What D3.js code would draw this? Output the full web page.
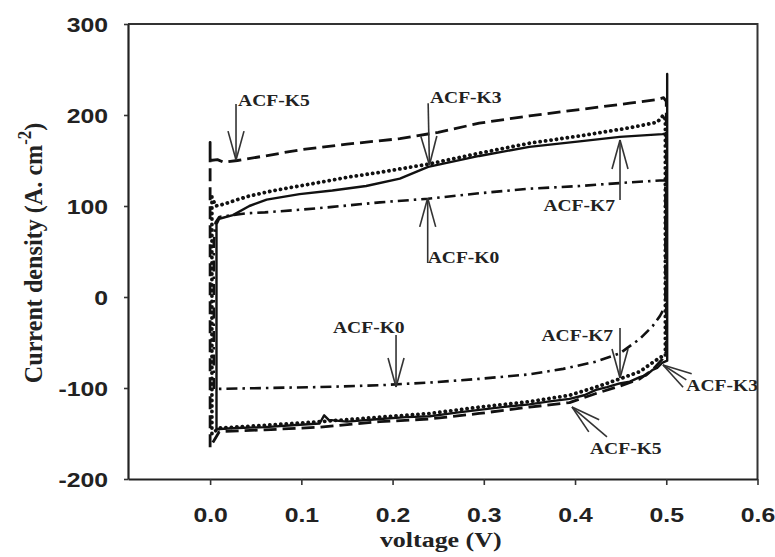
<!DOCTYPE html>
<html><head><meta charset="utf-8">
<script src="https://cdn.jsdelivr.net/npm/d3@7"></script>
<style>
html,body{margin:0;padding:0;background:#fff;}
svg{display:block;}
</style></head>
<body><svg id="chart" width="775" height="557"></svg>
<script>
// ---- data ----
const xTicks = [0.0, 0.1, 0.2, 0.3, 0.4, 0.5, 0.6];
const yTicks = [-200, -100, 0, 100, 200, 300];
const xLabel = "voltage (V)";
const yLabel = "Current density (A. cm";

// ACF-K0 (dash-dot)
const k0 = [[0.004,-101],[0.004,60],[0.006,82],[0.010,88],[0.025,90],[0.04,92],[0.06,93],[0.1,96],[0.134,99],[0.186,104],[0.239,108],[0.295,114],[0.35,119],[0.405,122],[0.46,126],[0.493,128],[0.499,128],[0.499,-10],[0.493,-21],[0.485,-32],[0.471,-46],[0.449,-62],[0.423,-71],[0.387,-79],[0.35,-85],[0.295,-90],[0.241,-94],[0.186,-97],[0.12,-99],[0.06,-100],[0.01,-101],[0.004,-101]];
// ACF-K3 (dotted)
const k3 = [[0.002,-150],[0.002,110],[0.006,100],[0.015,102],[0.03,107],[0.043,111],[0.07,117],[0.098,122],[0.153,132],[0.186,137],[0.239,146],[0.295,158],[0.35,169],[0.405,177],[0.46,186],[0.49,192],[0.497,200],[0.499,195],[0.499,-65],[0.494,-66],[0.485,-72],[0.471,-82],[0.46,-86],[0.449,-90],[0.423,-99],[0.394,-108],[0.35,-115],[0.295,-121],[0.241,-128],[0.186,-132],[0.12,-137],[0.06,-141],[0.01,-144],[0.002,-150]];
// ACF-K5 (dashed)
const k5 = [[0.0,-165],[0.0,170],[0.0,150],[0.008,151],[0.015,148],[0.03,150],[0.06,155],[0.1,162],[0.15,168],[0.208,174],[0.25,181],[0.295,191],[0.35,199],[0.405,206],[0.46,213],[0.49,217],[0.497,219],[0.5,215],[0.5,-60],[0.496,-68],[0.485,-80],[0.471,-90],[0.449,-98],[0.423,-106],[0.394,-116],[0.35,-121],[0.295,-128],[0.241,-134],[0.186,-137],[0.12,-143],[0.06,-146],[0.01,-148],[0.0,-165]];
// ACF-K7 (solid)
const k7 = [[0.007,-145],[0.007,80],[0.01,86],[0.025,90],[0.043,100],[0.062,107],[0.098,113],[0.134,117],[0.171,122],[0.208,130],[0.239,143],[0.295,155],[0.35,165],[0.405,171],[0.449,176],[0.496,179],[0.501,180],[0.501,245],[0.501,-70],[0.496,-72],[0.49,-78],[0.485,-80],[0.478,-86],[0.471,-88],[0.46,-93],[0.449,-95],[0.435,-99],[0.423,-102],[0.41,-108],[0.394,-112],[0.37,-115],[0.35,-118],[0.32,-121],[0.295,-124],[0.27,-127],[0.241,-131],[0.215,-132],[0.186,-134],[0.15,-137],[0.13,-135],[0.125,-130],[0.12,-139],[0.09,-141],[0.06,-143],[0.03,-144],[0.01,-145],[0.007,-145]];

// annotations: label, text position, anchor, arrow tail, arrow tip (data units)
const notes = [
  {t:"ACF-K5", tx:0.0307, ty:210,   a:"start", from:[0.0284,212],  to:[0.0284,150.5]},
  {t:"ACF-K3", tx:0.241,  ty:213,   a:"start", from:[0.239,213],   to:[0.2404,145]},
  {t:"ACF-K7", tx:0.4438, ty:94.5,  a:"end",   from:[0.4493,106.6],to:[0.4493,172.5]},
  {t:"ACF-K0", tx:0.2385, ty:37.4,  a:"start", from:[0.2385,37.4], to:[0.2385,108.8]},
  {t:"ACF-K0", tx:0.1347, ty:-39.6, a:"start", from:[0.2038,-41.8],to:[0.2038,-98.9]},
  {t:"ACF-K7", tx:0.4417, ty:-48.4, a:"end",   from:[0.4493,-34],  to:[0.4493,-89]},
  {t:"ACF-K3", tx:0.522,  ty:-103.3,a:"start", from:[0.522,-91],   to:[0.4964,-74.7]},
  {t:"ACF-K5", tx:0.4164, ty:-172.5,a:"start", from:[0.435,-153.8],to:[0.3967,-120.9]}
];

// ---- chart ----
const svg = d3.select("#chart");
const L = 128, R = 757.5, T = 24, B = 479;
const x = d3.scaleLinear().domain([-0.09, 0.6]).range([L, R]);
const y = d3.scaleLinear().domain([-200, 300]).range([B, T]);

const line = d3.line().x(d => x(d[0])).y(d => y(d[1]));

const styles = [
  {d:k0, w:2.6, dash:"11,5,2.5,5", cap:"butt"},
  {d:k5, w:2.8, dash:"13,6", cap:"butt"},
  {d:k3, w:3.8, dash:"0.1,5.4", cap:"round"},
  {d:k7, w:2.4, dash:null, cap:"butt"}
];
styles.forEach(s => {
  svg.append("path").datum(s.d)
    .attr("d", line)
    .attr("fill", "none")
    .attr("stroke", "#111")
    .attr("stroke-width", s.w)
    .attr("stroke-linecap", s.cap)
    .attr("stroke-linejoin", "round")
    .attr("stroke-dasharray", s.dash);
});

// annotations
const ng = svg.append("g");
notes.forEach(n => {
  const x1 = x(n.from[0]), y1 = y(n.from[1]), x2 = x(n.to[0]), y2 = y(n.to[1]);
  ng.append("line").attr("x1", x1).attr("y1", y1).attr("x2", x2).attr("y2", y2)
    .attr("stroke", "#333").attr("stroke-width", 1.6);
  const ang = Math.atan2(y1 - y2, x1 - x2);
  const len = 30, spread = 0.27;
  [-spread, spread].forEach(s => {
    ng.append("line").attr("x1", x2).attr("y1", y2)
      .attr("x2", x2 + len * Math.cos(ang + s)).attr("y2", y2 + len * Math.sin(ang + s))
      .attr("stroke", "#333").attr("stroke-width", 1.6);
  });
  const sx = 1.15;
  ng.append("text")
    .attr("transform", `translate(${x(n.tx)},${y(n.ty)}) scale(${sx},1)`)
    .attr("text-anchor", n.a)
    .attr("font-family", "'Liberation Serif','Times New Roman',serif")
    .attr("font-weight", "bold").attr("font-size", 17)
    .attr("fill", "#222")
    .text(n.t);
});

// frame (top and right)
svg.append("path")
  .attr("d", `M${L},${T}H${R}V${B}`)
  .attr("fill", "none").attr("stroke", "#333").attr("stroke-width", 2);

// axes
const xAxis = svg.append("g").attr("transform", `translate(0,${B})`)
  .call(d3.axisBottom(x).tickValues(xTicks).tickFormat(d => d.toFixed(1)).tickSizeInner(6).tickSizeOuter(0));
const yAxis = svg.append("g").attr("transform", `translate(${L},0)`)
  .call(d3.axisLeft(y).tickValues(yTicks).tickFormat(d => String(d)).tickSizeInner(4).tickSizeOuter(0));

[xAxis, yAxis].forEach(g => {
  g.select(".domain").attr("stroke", "#222").attr("stroke-width", 2.2);
  g.selectAll(".tick line").attr("stroke", "#333").attr("stroke-width", 1.6);
  g.selectAll(".tick text")
    .attr("font-family", "'Liberation Sans',Arial,sans-serif")
    .attr("font-weight", "bold").attr("font-size", 21).attr("fill", "#222");
});
xAxis.selectAll(".tick text").attr("dy", null).attr("y", 43).attr("transform", "scale(1.18,1)");
yAxis.selectAll(".tick text").attr("dy", "0.36em").attr("x", -20 / 1.18).attr("transform", "scale(1.18,1)");

// axis titles
svg.append("text")
  .attr("transform", `translate(${(L + R) / 2 - 2},547) scale(1.18,1)`)
  .attr("text-anchor", "middle")
  .attr("font-family", "'Liberation Serif','Times New Roman',serif")
  .attr("font-weight", "bold").attr("font-size", 22).attr("fill", "#222")
  .text(xLabel);

const yt = svg.append("text")
  .attr("transform", `translate(42,253) rotate(-90) scale(0.93,1)`)
  .attr("text-anchor", "middle")
  .attr("font-family", "'Liberation Serif','Times New Roman',serif")
  .attr("font-weight", "bold").attr("font-size", 26).attr("fill", "#222");
yt.append("tspan").text(yLabel);
yt.append("tspan").attr("dy", -11).attr("font-size", 18).text("-2");
yt.append("tspan").attr("dy", 11).text(")");
</script></body></html>
